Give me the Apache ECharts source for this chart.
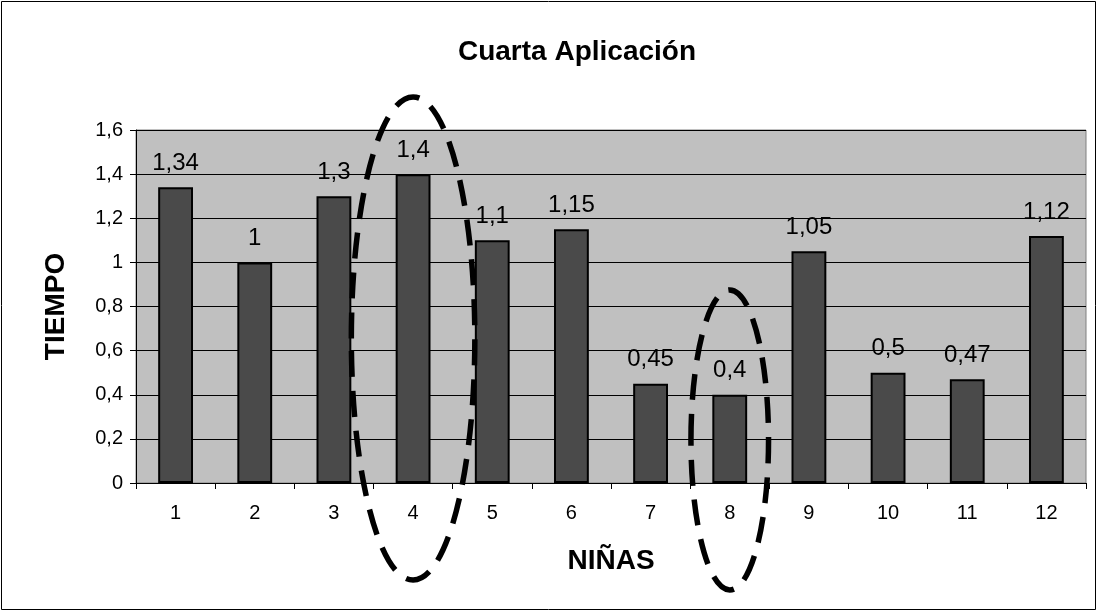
<!DOCTYPE html>
<html>
<head>
<meta charset="utf-8">
<script src="https://cdn.jsdelivr.net/npm/echarts@6/dist/echarts.min.js"></script>
<style>html,body{margin:0;padding:0;background:#fff;}#c{width:1098px;height:612px;}</style>
</head>
<body>
<div id="c"></div>
<script>
const categories = ['1','2','3','4','5','6','7','8','9','10','11','12'];
const tiempo = [1.34, 1, 1.3, 1.4, 1.1, 1.15, 0.45, 0.4, 1.05, 0.5, 0.47, 1.12];
const yTicks = [0, 0.2, 0.4, 0.6, 0.8, 1, 1.2, 1.4, 1.6];
// highlighted categories (dashed ellipses): [category index, half width in categories, top value, bottom value]
const highlights = [[3, 0.78, 1.75, -0.44], [7, 0.49, 0.875, -0.485]];

const fmt = v => String(v).replace('.', ',');
const chart = echarts.init(document.getElementById('c'));
const FONT = '"Liberation Sans", Arial, sans-serif';
chart.setOption({
  animation: false,
  title: {text: 'Cuarta Aplicación', left: 572, textAlign: 'center', top: 33,
    textStyle: {fontFamily: FONT, fontSize: 28, fontWeight: 'bold', color: '#000'}},
  grid: {left: 136, right: 12, top: 130, bottom: 129, show: true, backgroundColor: '#C0C0C0', borderColor: '#808080', borderWidth: 1},
  xAxis: {type: 'category', data: categories,
    name: 'NIÑAS', nameLocation: 'middle', nameGap: 64,
    nameTextStyle: {fontFamily: FONT, fontSize: 28, fontWeight: 'bold', color: '#000'},
    axisLine: {lineStyle: {color: '#000', width: 1}},
    axisTick: {show: true, length: 6, lineStyle: {color: '#000'}},
    axisLabel: {fontFamily: FONT, fontSize: 20, color: '#000', margin: 20}},
  yAxis: {type: 'value', min: yTicks[0], max: yTicks[yTicks.length-1], interval: 0.2,
    name: 'TIEMPO', nameLocation: 'middle', nameGap: 66, nameRotate: 90,
    nameTextStyle: {fontFamily: FONT, fontSize: 28, fontWeight: 'bold', color: '#000'},
    axisLine: {show: true, lineStyle: {color: '#000'}},
    axisTick: {show: true, length: 6, lineStyle: {color: '#000'}},
    axisLabel: {fontFamily: FONT, fontSize: 20, color: '#000', margin: 13, formatter: v => fmt(+v.toFixed(1))},
    splitLine: {lineStyle: {color: '#000', width: 1}}},
  series: [{type: 'bar', data: tiempo, barWidth: '44%',
    itemStyle: {color: '#4A4A4A', borderColor: '#000', borderWidth: 2},
    label: {show: true, position: 'top', distance: 12, fontFamily: FONT, fontSize: 24, color: '#000',
      formatter: p => fmt(p.value)}}]
});

function drawEllipses() {
  const els = [{type: 'rect', shape: {x: 1.5, y: 1.5, width: 1094, height: 608}, style: {fill: null, stroke: '#000', lineWidth: 1}, z: 0}];
  highlights.forEach(h => {
    const c = chart.convertToPixel({gridIndex: 0}, [h[0], 0]);
    const c2 = chart.convertToPixel({gridIndex: 0}, [h[0] + 1, 0]);
    const catW = c2[0] - c[0];
    const top = chart.convertToPixel({yAxisIndex: 0}, h[2]);
    const bot = chart.convertToPixel({yAxisIndex: 0}, h[3]);
    els.push({type: 'ellipse', shape: {cx: c[0], cy: (top + bot) / 2, rx: h[1] * catW, ry: (bot - top) / 2},
      style: {fill: null, stroke: '#000', lineWidth: 5.5, lineDash: [26, 14]}, z: 100});
  });
  chart.setOption({graphic: {elements: els}});
}
drawEllipses();
</script>
</body>
</html>
